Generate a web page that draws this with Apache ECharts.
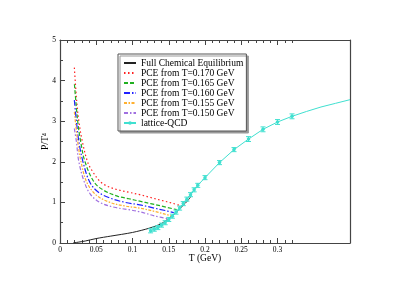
<!DOCTYPE html>
<html><head><meta charset="utf-8">
<script src="https://cdn.jsdelivr.net/npm/echarts@6/dist/echarts.min.js"></script>
<style>html,body{margin:0;padding:0;background:#fff}#c{width:399px;height:282px}</style>
</head><body><div id="c"></div>
<script>
// ---- tick labels ----
const xMajor = [0, 0.05, 0.1, 0.15, 0.2, 0.25, 0.3];
const yMajor = [0, 1, 2, 3, 4, 5];
const xMinor = [];
for (let i = 1; i <= 32; i++) if (i % 5) xMinor.push(i / 100);
const yMinor = [0.5, 1.5, 2.5, 3.5, 4.5];

// ---- series names ----
const names = ['Full Chemical Equilibrium', 'PCE from T=0.170 GeV', 'PCE from T=0.165 GeV',
  'PCE from T=0.160 GeV', 'PCE from T=0.155 GeV', 'PCE from T=0.150 GeV', 'lattice-QCD'];

// ---- Full chemical equilibrium ----
const fceT = [0.018, 0.025, 0.035, 0.05, 0.07, 0.1, 0.124, 0.14, 0.151, 0.16, 0.165, 0.17, 0.175, 0.18];
const fceP = [0.0, 0.02, 0.05, 0.11, 0.17, 0.26, 0.37, 0.48, 0.62, 0.75, 0.84, 0.93, 1.02, 1.13];

// ---- PCE curves ----
const pce170T = [0.0198, 0.023, 0.026, 0.0308, 0.038, 0.045, 0.055, 0.065, 0.08, 0.095, 0.11, 0.125, 0.14, 0.155, 0.166];
const pce170P = [4.32, 3.5, 3.0, 2.5, 2.0, 1.76, 1.52, 1.40, 1.31, 1.25, 1.19, 1.12, 1.05, 0.98, 0.92];
const pce165T = [0.0199, 0.0244, 0.0285, 0.0345, 0.047, 0.06, 0.08, 0.095, 0.11, 0.125, 0.14, 0.161];
const pce165P = [3.91, 3.0, 2.5, 2.0, 1.5, 1.30, 1.15, 1.09, 1.03, 0.97, 0.91, 0.82];
const pce160T = [0.0198, 0.0226, 0.026, 0.0317, 0.041, 0.053, 0.07, 0.09, 0.11, 0.13, 0.145, 0.157];
const pce160P = [3.52, 3.0, 2.5, 2.0, 1.5, 1.25, 1.10, 1.00, 0.94, 0.86, 0.80, 0.75];
const pce155T = [0.0198, 0.0244, 0.029, 0.0368, 0.05, 0.069, 0.09, 0.11, 0.13, 0.145, 0.154];
const pce155P = [3.23, 2.5, 2.0, 1.5, 1.18, 1.0, 0.91, 0.86, 0.78, 0.71, 0.67];
const pce150T = [0.0198, 0.0226, 0.026, 0.0336, 0.042, 0.055, 0.075, 0.095, 0.11, 0.13, 0.151];
const pce150P = [2.82, 2.5, 2.0, 1.5, 1.2, 1.0, 0.88, 0.82, 0.77, 0.67, 0.59];

// ---- lattice QCD ----
const latT = [0.125, 0.13, 0.135, 0.14, 0.145, 0.15, 0.155, 0.16, 0.165, 0.17, 0.175, 0.18, 0.185, 0.19,
  0.2, 0.22, 0.24, 0.26, 0.28, 0.3, 0.32];
const latP = [0.30, 0.34, 0.38, 0.44, 0.50, 0.58, 0.66, 0.76, 0.86, 0.97, 1.08, 1.19, 1.31, 1.42,
  1.61, 1.98, 2.30, 2.56, 2.80, 2.98, 3.12];
const latErr = [0.05, 0.05, 0.05, 0.05, 0.05, 0.05, 0.05, 0.05, 0.05, 0.05, 0.05, 0.05, 0.05, 0.05,
  0.05, 0.05, 0.05, 0.06, 0.06, 0.06, 0.06];
const extT = [0.34, 0.36, 0.38, 0.40];
const extP = [3.24, 3.35, 3.44, 3.53];

const colors = ['#222222', '#ff2020', '#20b020', '#2020ff', '#ffb030', '#a070e0', '#40e0d0'];
const dashes = ['solid', [1.5, 2.5], [4, 2], [6, 2, 1.5, 2], [3, 1.5, 1.5, 1.5], [4, 2, 1.5, 2]];
const FONT = 'Liberation Serif';

const zip = (a, b) => a.map((v, i) => [v, b[i]]);
const pce = [[pce170T, pce170P], [pce165T, pce165P], [pce160T, pce160P], [pce155T, pce155P], [pce150T, pce150P]];

const series = [];
series.push({
  name: names[0], type: 'line', data: zip(fceT, fceP), symbol: 'none', smooth: 0.3,
  lineStyle: { color: colors[0], width: 1 }, itemStyle: { color: colors[0] }, z: 2
});
pce.forEach((p, k) => {
  series.push({
    name: names[k + 1], type: 'line', data: zip(p[0], p[1]), symbol: 'none', smooth: 0.35,
    lineStyle: { color: colors[k + 1], width: 1.2, type: dashes[k + 1] }, itemStyle: { color: colors[k + 1] }, z: 3
  });
});
const latData = latT.map((t, i) => ({ value: [t, latP[i]] }))
  .concat(extT.map((t, i) => ({ value: [t, extP[i]], symbol: 'none' })));
series.push({
  name: names[6], type: 'line', data: latData, symbol: 'circle', symbolSize: 3.5,
  lineStyle: { color: colors[6], width: 1 }, itemStyle: { color: colors[6] }, z: 5
});
series.push({
  type: 'custom', z: 4,
  data: latT.map((t, i) => [t, latP[i] - latErr[i], latP[i] + latErr[i]]),
  renderItem: function (params, api) {
    const lo = api.coord([api.value(0), api.value(1)]);
    const hi = api.coord([api.value(0), api.value(2)]);
    const w = 2.5;
    const st = { stroke: colors[6], lineWidth: 1 };
    return { type: 'group', children: [
      { type: 'line', shape: { x1: lo[0], y1: lo[1], x2: hi[0], y2: hi[1] }, style: st },
      { type: 'line', shape: { x1: lo[0] - w, y1: lo[1], x2: lo[0] + w, y2: lo[1] }, style: st },
      { type: 'line', shape: { x1: hi[0] - w, y1: hi[1], x2: hi[0] + w, y2: hi[1] }, style: st }
    ]};
  }
});

const lineC = '#444';
function xAx(pos, ticks, len, labels, line) {
  return {
    type: 'value', position: pos, min: 0, max: 0.4, gridIndex: 0,
    axisLine: { show: line, onZero: false, lineStyle: { color: lineC, width: 1.2 } },
    axisTick: { show: true, inside: true, length: len, customValues: ticks, lineStyle: { color: lineC, width: 1 } },
    axisLabel: { show: labels, customValues: ticks, margin: 3, color: '#000', fontFamily: FONT, fontSize: 7.5 },
    splitLine: { show: false }
  };
}
function yAx(pos, ticks, len, labels, line) {
  return {
    type: 'value', position: pos, min: 0, max: 5, gridIndex: 0,
    axisLine: { show: line, onZero: false, lineStyle: { color: lineC, width: 1.2 } },
    axisTick: { show: ticks.length > 0, inside: true, length: len, customValues: ticks, lineStyle: { color: lineC, width: 1 } },
    axisLabel: { show: labels, customValues: ticks, margin: 4, color: '#000', fontFamily: FONT, fontSize: 7.5 },
    splitLine: { show: false }
  };
}
const xAxes = [xAx('bottom', xMajor, 5, true, true), xAx('bottom', xMinor, 3, false, false),
  xAx('top', xMajor, 5, false, true), xAx('top', xMinor, 3, false, false)];
Object.assign(xAxes[0], {
  name: 'T (GeV)', nameLocation: 'middle', nameGap: 10, nameMoveOverlap: false,
  nameTextStyle: { fontFamily: FONT, fontSize: 9.5, color: '#000' }
});
const yAxes = [yAx('left', yMajor, 5, true, true), yAx('left', yMinor, 3, false, false), yAx('right', [], 0, false, true)];
Object.assign(yAxes[0], {
  name: 'P/T⁴', nameLocation: 'middle', nameGap: 10, nameRotate: 90, nameMoveOverlap: false,
  nameTextStyle: { fontFamily: FONT, fontSize: 9.5, color: '#000' }
});

const legendData = names.map((n, i) => i < 6
  ? { name: n, itemStyle: { color: 'rgba(0,0,0,0)', borderWidth: 0, opacity: 0 } }
  : { name: n });

const chart = echarts.init(document.getElementById('c'), null, { renderer: 'canvas' });
chart.setOption({
  animation: false,
  backgroundColor: '#fff',
  grid: { left: 60, top: 40, width: 290, height: 203, containLabel: false, outerBoundsMode: 'none' },
  xAxis: xAxes,
  yAxis: yAxes,
  legend: {
    data: legendData, orient: 'vertical', left: 118, top: 54,
    padding: [4, 3, 3, 5], itemGap: 0, itemWidth: 12, itemHeight: 4.5,
    textStyle: { fontFamily: FONT, fontSize: 9.5, lineHeight: 9.67, color: '#000' },
    backgroundColor: '#fff', borderColor: '#555', borderWidth: 1,
    shadowColor: '#999', shadowOffsetX: 2, shadowOffsetY: 2, shadowBlur: 0,
    selectedMode: false
  },
  series: series
});
</script></body></html>
